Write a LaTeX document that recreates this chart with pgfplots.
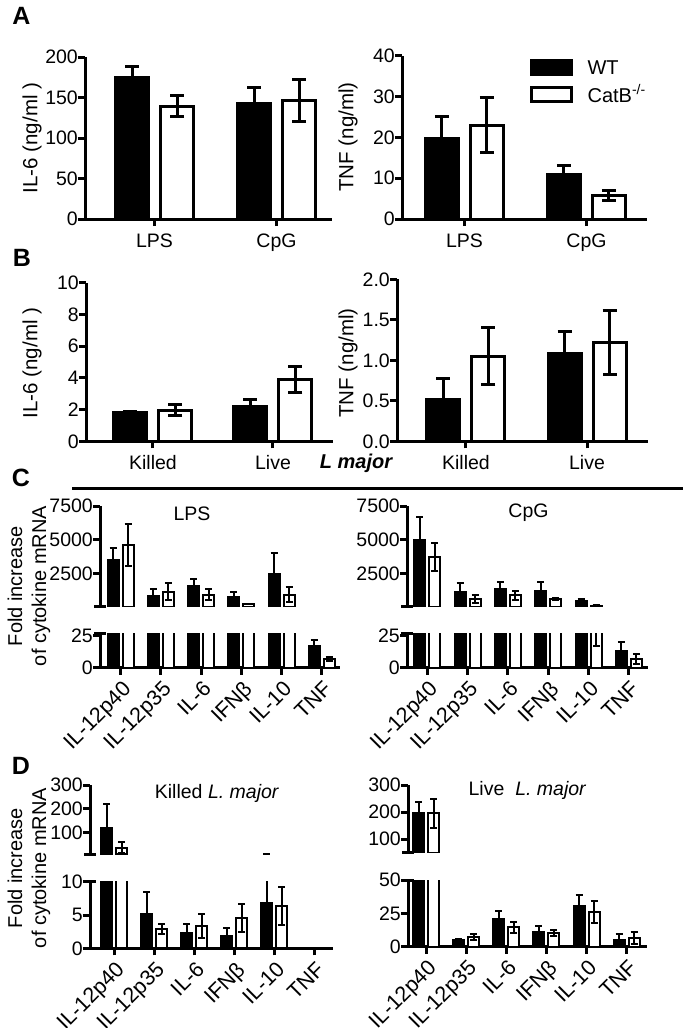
\documentclass[border=0pt]{standalone}
\usepackage{fontspec}
\setmainfont{Liberation Sans}
\usepackage{pgfplots}
\usepackage{pgfplotstable}
\pgfplotsset{compat=1.18}

% columns: category, WT mean, WT sem, CatB-/- mean, CatB-/- sem
\pgfplotstableread{
x wt wte ko koe
1 175 13 139 13
2 142 20 146 26
}\dataAL
\pgfplotstableread{
x wt wte ko koe
1 19.8 5.4 23.0 6.8
2 10.9 2.2 5.8 1.3
}\dataAR
\pgfplotstableread{
x wt wte ko koe
1 1.80 0.10 1.97 0.35
2 2.22 0.42 3.90 0.82
}\dataBL
\pgfplotstableread{
x wt wte ko koe
1 0.51 0.26 1.05 0.35
2 1.09 0.27 1.22 0.40
}\dataBR
\pgfplotstableread{
x wt wte ko koe
1 3500 870 4600 1550
2 850 490 1150 600
3 1590 490 930 420
4 730 420 220 30
5 2450 1530 930 530
6 17 4.4 7 1.7
}\dataCL
\pgfplotstableread{
x wt wte ko koe
1 4950 1750 3700 1030
2 1100 700 600 270
3 1375 450 870 340
4 1175 650 575 60
5 475 120 100 83
6 13 6.7 7 3.9
}\dataCR
\pgfplotstableread{
x wt wte ko koe
1 120 100 38 22
2 5.15 3.35 2.85 0.75
3 2.35 1.25 3.35 1.8
4 1.9 1.1 4.55 2.1
5 6.8 4.5 6.3 2.85
6 nan nan nan nan
}\dataDL
\pgfplotstableread{
x wt wte ko koe
1 197 42 195 52
2 5.3 0.8 7.0 2.3
3 20.5 6.5 14.5 4.4
4 11.3 4.5 10.0 2.3
5 30.5 8.3 26.0 8.3
6 5.0 4.3 6.3 4.5
}\dataDR

\pgfplotsset{
  panel/.style={
    scale only axis, anchor=south west, enlargelimits=false,
    axis x line*=bottom, axis y line*=left,
    axis line style={-, line width=3pt},
    tick style={black, line width=3pt},
    tick align=outside, major tick length=7pt,
    tick label style={font=\fontsize{19.5}{22}\selectfont},
    /pgf/number format/assume math mode=true,
    /pgf/number format/1000 sep={},
    yticklabel style={inner xsep=1pt, xshift=1pt},
    xticklabel style={yshift=-4pt},
    ybar,
  },
  big/.style={panel, bar width=33pt},
  small/.style={panel, bar width=11pt},
  upper/.style={small, axis x line=none, xtick=\empty,
    extra y ticks={#1}, extra y tick labels={},
    extra y tick style={tick align=center, major tick length=12pt}},
  lower/.style={small, xtick={1,...,6},
    xticklabels={IL-12p40,IL-12p35,IL-6,IFNβ,IL-10,TNF},
    xticklabel style={rotate=45, anchor=north east, inner sep=0pt, yshift=-1pt,
      font=\fontsize{21.5}{24}\selectfont},
    extra y ticks={#1}, extra y tick labels={},
    extra y tick style={tick align=center, major tick length=12pt}},
  wtA/.style={fill=black, draw=black, line width=3pt, bar shift=-22.5pt,
    error bars/.cd, y dir=plus, y explicit,
    error bar style={line width=3pt, draw=black},
    error mark options={line width=3pt, draw=black, mark size=7pt, rotate=90},
    /pgfplots/.cd},
  koA/.style={fill=white, draw=black, line width=3pt, bar shift=22.5pt,
    error bars/.cd, y dir=both, y explicit,
    error bar style={line width=3pt, draw=black},
    error mark options={line width=3pt, draw=black, mark size=7pt, rotate=90},
    /pgfplots/.cd},
  wtC/.style={fill=black, draw=black, line width=2pt, bar shift=-7.5pt,
    error bars/.cd, y dir=plus, y explicit,
    error bar style={line width=2pt, draw=black},
    error mark options={line width=2pt, draw=black, mark size=3.5pt, rotate=90},
    /pgfplots/.cd},
  koC/.style={fill=white, draw=black, line width=2pt, bar shift=7.5pt,
    error bars/.cd, y dir=both, y explicit,
    error bar style={line width=2pt, draw=black},
    error mark options={line width=2pt, draw=black, mark size=3.5pt, rotate=90},
    /pgfplots/.cd},
}

\begin{document}
\begin{tikzpicture}
\useasboundingbox (0,0) rectangle (683pt,-1028pt);

% ---------- A ----------
\begin{axis}[big, at={(85pt,-219pt)}, width=247pt, height=162pt,
  xmin=0.43, xmax=2.455, ymin=0, ymax=200, ytick={0,50,...,200},
  xtick={1,2}, xticklabels={LPS,CpG}]
\addplot[wtA] table[x=x, y=wt, y error=wte] {\dataAL};
\addplot[koA] table[x=x, y=ko, y error=koe] {\dataAL};
\end{axis}

\begin{axis}[big, at={(402pt,-219pt)}, width=245pt, height=163.3pt,
  xmin=0.488, xmax=2.496, ymin=0, ymax=40, ytick={0,10,...,40},
  xtick={1,2}, xticklabels={LPS,CpG},
  legend style={draw=none, fill=none, at={(axis description cs:0.52,0.985)},
    anchor=north west, font=\fontsize{20}{24}\selectfont,
    inner sep=0pt, row sep=5pt, column sep=13pt, legend cell align=left},
  legend entries={WT, CatB\textsuperscript{-/-}}]
\addlegendimage{legend image code/.code={\draw[fill=black, draw=black, line width=3pt] (0pt,-7pt) rectangle (40pt,7pt);}}
\addlegendimage{legend image code/.code={\draw[fill=white, draw=black, line width=3pt] (0pt,-7pt) rectangle (40pt,7pt);}}
\addplot[wtA] table[x=x, y=wt, y error=wte] {\dataAR};
\addplot[koA] table[x=x, y=ko, y error=koe] {\dataAR};
\end{axis}

% ---------- B ----------
\begin{axis}[big, at={(86pt,-441.3pt)}, width=247pt, height=158.6pt,
  xmin=0.442, xmax=2.5, ymin=0, ymax=10, ytick={0,2,...,10},
  xtick={1,2}, xticklabels={Killed,Live}]
\addplot[wtA] table[x=x, y=wt, y error=wte] {\dataBL};
\addplot[koA] table[x=x, y=ko, y error=koe] {\dataBL};
\end{axis}

\begin{axis}[big, at={(397pt,-441.3pt)}, width=251pt, height=162pt,
  xmin=0.43, xmax=2.504, ymin=0, ymax=2, ytick={0,0.5,...,2},
  yticklabel style={/pgf/number format/.cd, fixed, fixed zerofill, precision=1},
  xtick={1,2}, xticklabels={Killed,Live}]
\addplot[wtA] table[x=x, y=wt, y error=wte] {\dataBR};
\addplot[koA] table[x=x, y=ko, y error=koe] {\dataBR};
\end{axis}

% ---------- C ----------
\begin{axis}[upper=25, at={(100pt,-606.7pt)}, width=240pt, height=100.7pt,
  xmin=0.485, xmax=6.455, ymin=25, ymax=7500, ytick={2500,5000,7500}]
\addplot[restrict y to domain=25:100000, wtC] table[x=x, y=wt, y error=wte] {\dataCL};
\addplot[restrict y to domain=25:100000, koC] table[x=x, y=ko, y error=koe] {\dataCL};
\end{axis}
\begin{axis}[lower=27, at={(100pt,-667.7pt)}, width=240pt, height=34.6pt,
  xmin=0.485, xmax=6.455, ymin=0, ymax=27, ytick={0,25}]
\addplot[wtC] table[x=x, y=wt, y error=wte] {\dataCL};
\addplot[koC] table[x=x, y=ko, y error=koe] {\dataCL};
\end{axis}

\begin{axis}[upper=25, at={(407pt,-606.7pt)}, width=241pt, height=100.7pt,
  xmin=0.496, xmax=6.476, ymin=25, ymax=7500, ytick={2500,5000,7500}]
\addplot[restrict y to domain=25:100000, wtC] table[x=x, y=wt, y error=wte] {\dataCR};
\addplot[restrict y to domain=25:100000, koC] table[x=x, y=ko, y error=koe] {\dataCR};
\end{axis}
\begin{axis}[lower=27, at={(407pt,-667.7pt)}, width=241pt, height=34.6pt,
  xmin=0.496, xmax=6.476, ymin=0, ymax=27, ytick={0,25}]
\addplot[wtC] table[x=x, y=wt, y error=wte] {\dataCR};
\addplot[koC] table[x=x, y=ko, y error=koe] {\dataCR};
\end{axis}

% ---------- D ----------
\begin{axis}[upper=10, at={(90pt,-854.3pt)}, width=243pt, height=69.3pt,
  xmin=0.40, xmax=6.46, ymin=10, ymax=300, ytick={100,200,300}]
\addplot[restrict y to domain=10:100000, wtC] table[x=x, y=wt, y error=wte] {\dataDL};
\addplot[restrict y to domain=10:100000, koC] table[x=x, y=ko, y error=koe] {\dataDL};
% IL-10: its error bar crosses the break, so its cap shows above it
\addplot[forget plot, restrict x to domain=4.5:5.5, wtC, draw=none, fill=none] table[x=x, y=wt, y error=wte] {\dataDL};
\end{axis}
\begin{axis}[lower=10, at={(90pt,-948.3pt)}, width=243pt, height=66.6pt,
  xmin=0.40, xmax=6.46, ymin=0, ymax=10, ytick={0,5,10}]
\addplot[wtC] table[x=x, y=wt, y error=wte] {\dataDL};
\addplot[koC] table[x=x, y=ko, y error=koe] {\dataDL};
\end{axis}

\begin{axis}[upper=50, at={(408pt,-852.7pt)}, width=238.7pt, height=67.7pt,
  xmin=0.55, xmax=6.50, ymin=50, ymax=300, ytick={100,200,300}]
\addplot[restrict y to domain=50:100000, wtC] table[x=x, y=wt, y error=wte] {\dataDR};
\addplot[restrict y to domain=50:100000, koC] table[x=x, y=ko, y error=koe] {\dataDR};
\end{axis}
\begin{axis}[lower=50, at={(408pt,-946.7pt)}, width=238.7pt, height=66.7pt,
  xmin=0.55, xmax=6.50, ymin=0, ymax=50, ytick={0,25,50}]
\addplot[wtC] table[x=x, y=wt, y error=wte] {\dataDR};
\addplot[koC] table[x=x, y=ko, y error=koe] {\dataDR};
\end{axis}

% ---------- labels ----------
\begin{scope}[every node/.style={font=\fontsize{20.5}{24}\selectfont}]
\node[font=\fontsize{25}{28}\selectfont\bfseries] at (21.5pt,-15.5pt) {A};
\node[font=\fontsize{25}{28}\selectfont\bfseries] at (22pt,-257.5pt) {B};
\node[font=\fontsize{25}{28}\selectfont\bfseries] at (21pt,-478pt) {C};
\node[font=\fontsize{25}{28}\selectfont\bfseries] at (21pt,-766pt) {D};
\node[rotate=90] at (32pt,-138pt) {IL-6 (ng/ml )};
\node[rotate=90] at (348pt,-137pt) {TNF (ng/ml)};
\node[rotate=90] at (32pt,-363pt) {IL-6 (ng/ml )};
\node[rotate=90] at (348pt,-363pt) {TNF (ng/ml)};
\node[font=\fontsize{20}{24}\selectfont\bfseries\itshape] at (356pt,-463pt) {L major};
\draw[line width=3pt] (72pt,-488pt) -- (683pt,-488pt);
\node[rotate=90, align=center, font=\fontsize{20}{24}\selectfont] at (29pt,-586pt) {Fold increase\\of cytokine mRNA};
\node[rotate=90, align=center, font=\fontsize{20}{24}\selectfont] at (29pt,-868pt) {Fold increase\\of cytokine mRNA};
\node[font=\fontsize{19.5}{22}\selectfont] at (192pt,-514pt) {LPS};
\node[font=\fontsize{19.5}{22}\selectfont] at (528.5pt,-513pt) {CpG};
\node[font=\fontsize{19.5}{22}\selectfont] at (217pt,-793pt) {Killed \textit{L. major}};
\node[font=\fontsize{19.5}{22}\selectfont] at (527.5pt,-790.5pt) {Live\ \ \textit{L. major}};
\end{scope}
\end{tikzpicture}
\end{document}
